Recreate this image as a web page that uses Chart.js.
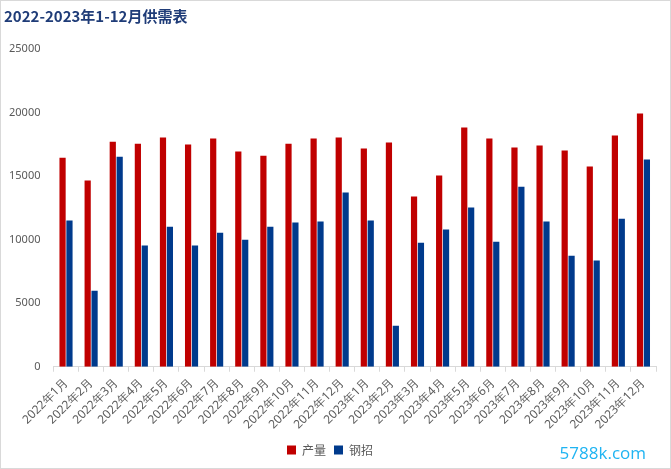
<!DOCTYPE html>
<html>
<head>
<meta charset="utf-8">
<script src="https://cdn.jsdelivr.net/npm/chart.js@4.4.0/dist/chart.umd.min.js"></script>
<style>
  html, body { margin: 0; padding: 0; background: #fff; }
  #wrap { position: relative; width: 669px; height: 467px; border: 1px solid #d9d9d9; }
  #mark { position: absolute; right: 24px; bottom: 4px; font: 17px "Open Sans", sans-serif; color: #1fb4f2; }
</style>
</head>
<body>
<div id="wrap">
  <canvas id="chart" width="669" height="467"></canvas>
  <div id="mark">5788k.com</div>
</div>
<script>
// months (x categories)
const months = [
    '2022年1月', '2022年2月', '2022年3月', '2022年4月', '2022年5月', '2022年6月',
    '2022年7月', '2022年8月', '2022年9月', '2022年10月', '2022年11月', '2022年12月',
    '2023年1月', '2023年2月', '2023年3月', '2023年4月', '2023年5月', '2023年6月',
    '2023年7月', '2023年8月', '2023年9月', '2023年10月', '2023年11月', '2023年12月'
];

// series
const output = [16450, 14650, 17700, 17550, 18030, 17480, 17950, 16930, 16610, 17550, 17950, 18030,
                17170, 17640, 13390, 15040, 18820, 17950, 17240, 17400, 17010, 15750, 18190, 19920];
const steel = [11500, 5980, 16530, 9530, 11020, 9530, 10550, 10000, 11020, 11340, 11420, 13700,
               11500, 3230, 9760, 10790, 12520, 9840, 14170, 11420, 8740, 8350, 11650, 16300];

const yTicks = [0, 5000, 10000, 15000, 20000, 25000];

const tickFont = { family: "'Noto Sans', sans-serif", size: 11 };

new Chart(document.getElementById('chart'), {
    type: 'bar',
    data: {
        labels: months,
        datasets: [
            { label: '产量', data: output, backgroundColor: '#c00000', categoryPercentage: 0.55, barPercentage: 0.9 },
            { label: '钢招', data: steel, backgroundColor: '#003a8c', categoryPercentage: 0.55, barPercentage: 0.9 }
        ]
    },
    options: {
        responsive: false,
        animation: false,
        layout: { padding: { left: 3, right: 14, top: 0, bottom: 2 } },
        scales: {
            y: {
                min: yTicks[0],
                max: yTicks[yTicks.length - 1],
                ticks: { stepSize: 5000, color: '#595959', font: tickFont, padding: 5, callback: v => String(v) },
                grid: { display: false },
                border: { display: false }
            },
            x: {
                ticks: { color: '#595959', font: { family: "'Noto Sans', sans-serif", size: 12 }, maxRotation: 45, minRotation: 45, padding: 4 },
                grid: { offset: true, drawOnChartArea: false, tickLength: 5, color: '#d9d9d9' },
                border: { color: '#d9d9d9' }
            }
        },
        plugins: {
            title: {
                display: true,
                text: '2022-2023年1-12月供需表',
                align: 'start',
                color: '#1f3c78',
                font: { family: "'Noto Sans CJK SC', sans-serif", size: 15, weight: 'bold' },
                padding: { top: 6, bottom: 24 }
            },
            legend: {
                position: 'bottom',
                labels: {
                    color: '#595959',
                    font: { family: "'Noto Sans CJK SC', sans-serif", size: 12 },
                    boxWidth: 9,
                    boxHeight: 9,
                    padding: 8
                }
            },
            tooltip: { enabled: false }
        }
    }
});
</script>
</body>
</html>
